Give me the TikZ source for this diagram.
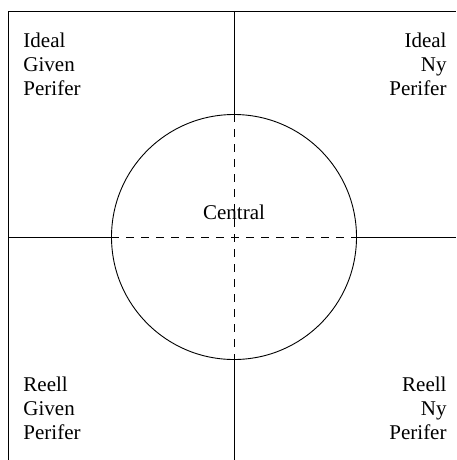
\documentclass[tikz,border=0pt]{standalone}
\usepackage{fontspec}
\setmainfont{Liberation Serif}
\usetikzlibrary{positioning}

\begin{document}
\begin{tikzpicture}[x=1pt,y=-1pt,line width=0.9pt,
  every node/.style={font=\fontsize{21}{24}\selectfont,inner sep=0pt},
  leftlabel/.style={anchor=north west,align=left},
  rightlabel/.style={anchor=north east,align=right},
  inner line/.style={dash pattern=on 8pt off 7pt}]
  \useasboundingbox (0,0) rectangle (456,460);
  % frame and axes
  \coordinate (c) at (234,237);
  \coordinate (nw) at (8,11);
  \coordinate (sw) at (8,460);
  \coordinate (ne) at (456,11);
  \coordinate (top) at (234,11);
  \coordinate (bot) at (234,460);
  \coordinate (lft) at (8,237);
  \coordinate (rgt) at (456,237);
  \node[circle,draw,minimum size=245pt] (ring) at (c) {};
  \draw (sw) -- (nw) -- (ne);
  \draw (top) -- (ring.north);
  \draw (ring.south) -- (bot);
  \draw (lft) -- (ring.west);
  \draw (ring.east) -- (rgt);
  \draw[inner line] (ring.north) -- (ring.south);
  \draw[inner line] (ring.west) -- (ring.east);
  % labels
  \node[above=17pt of c] (central) {Central};
  \node[leftlabel] (idealgiven) at (23,32) {Ideal\\Given\\Perifer};
  \node[rightlabel] (idealny) at (447,32) {Ideal\\Ny\\Perifer};
  \node[leftlabel] (reellgiven) at (23,376) {Reell\\Given\\Perifer};
  \node[rightlabel] (reellny) at (447,376) {Reell\\Ny\\Perifer};
\end{tikzpicture}
\end{document}
